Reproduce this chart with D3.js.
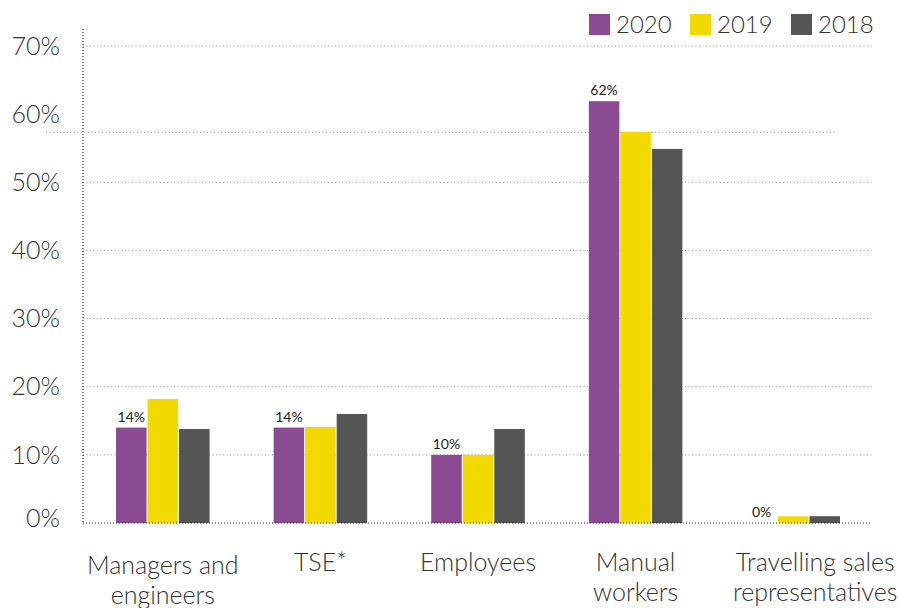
<!DOCTYPE html>
<html><head><meta charset="utf-8">
<script src="https://cdn.jsdelivr.net/npm/d3@7"></script>
<style>
body{margin:0;background:#fff;}
svg{display:block;}
</style></head>
<body>
<svg id="chart" width="900" height="608"></svg>
<script>
const categories = [["Managers and","engineers"],["TSE*"],["Employees"],["Manual","workers"],["Travelling sales","representatives"]];
const series = ["2020","2019","2018"];
const values2020 = [14.0, 14.0, 10.0, 61.9, 0];
const values2019 = [18.2, 14.1, 10.0, 57.4, 1.0];
const values2018 = [13.8, 16.0, 13.8, 54.9, 1.0];
const labels2020 = ["14%","14%","10%","62%","0%"];
const yTicks = [0,10,20,30,40,50,60,70];
const gridValues = [10,20,30,40,50,70];
const colors = ["#8a4b93","#f2da00","#555555"];

const svg = d3.select("#chart");
const font = "'Source Sans Pro', Lato, 'Open Sans', sans-serif";
const x0 = d3.scaleBand().domain(d3.range(categories.length)).range([84,872]).paddingInner(0.4).paddingOuter(0.2);
const x1 = d3.scaleBand().domain(series).range([0, x0.bandwidth()]).padding(0);
const y = d3.scaleLinear().domain([0,70]).range([523,46]);
const all = [values2020, values2019, values2018];

// gridlines
svg.append("g").selectAll("line").data(gridValues).join("line")
  .attr("x1",83).attr("x2",872).attr("y1",d=>y(d)).attr("y2",d=>y(d))
  .attr("stroke","#8c8c8c").attr("stroke-width",1).attr("stroke-dasharray","1,2.5");
// extra reference line
svg.append("line").attr("x1",46).attr("x2",836).attr("y1",y(values2019[3])+0.5).attr("y2",y(values2019[3])+0.5)
  .attr("stroke","#8c8c8c").attr("stroke-width",1).attr("stroke-dasharray","1,2.5");

// bars
const groups = svg.append("g").selectAll("g").data(categories).join("g")
  .attr("transform",(d,i)=>`translate(${x0(i)},0)`);
groups.selectAll("rect").data((d,i)=>series.map((s,k)=>({s,k,v:all[k][i]}))).join("rect")
  .attr("x",d=>x1(d.s)+0.5).attr("width",x1.bandwidth()-1)
  .attr("y",d=>y(d.v)).attr("height",d=>y(0)-y(d.v))
  .attr("fill",d=>colors[d.k]);

// value labels
svg.append("g").selectAll("text").data(labels2020).join("text")
  .attr("x",(d,i)=>x0(i)+x1("2020")+x1.bandwidth()/2)
  .attr("y",(d,i)=>y(values2020[i])-6)
  .attr("text-anchor","middle").attr("font-family",font).attr("font-size",14)
  .attr("fill","#1a1a1a").text(d=>d);

// axes
svg.append("line").attr("x1",83).attr("x2",83).attr("y1",29).attr("y2",523)
  .attr("stroke","#222").attr("stroke-width",1.2).attr("stroke-dasharray","1,2");
svg.append("line").attr("x1",83).attr("x2",872).attr("y1",523).attr("y2",523)
  .attr("stroke","#222").attr("stroke-width",1.2).attr("stroke-dasharray","1,2");

// y labels
svg.append("g").selectAll("text").data(yTicks).join("text")
  .attr("x",60).attr("y",d=>y(d) - (d===0?5:0)).attr("dy","0.35em")
  .attr("text-anchor","end").attr("font-family",font).attr("font-weight",300)
  .attr("font-size",25).attr("fill","#333").text(d=>d+"%");

// category labels
const n = categories.length;
const cl = svg.append("g").selectAll("text").data(categories).join("text")
  .attr("x",(d,i)=>x0(i)+x0.bandwidth()/2 + (i===n-1?22:0)).attr("y",(d,i)=>i===0?574:571)
  .attr("text-anchor","middle").attr("font-family",font).attr("font-weight",300)
  .attr("font-size",25).attr("fill","#333");
cl.selectAll("tspan").data(d=>d).join("tspan")
  .attr("x",function(){return this.parentNode.getAttribute("x");})
  .attr("dy",(d,j)=>j===0?0:30).text(d=>d);

// legend
const lx = [589,690,791];
const lg = svg.append("g").selectAll("g").data(series).join("g")
  .attr("transform",(d,i)=>`translate(${lx[i]},14)`);
lg.append("rect").attr("width",21).attr("height",21).attr("fill",(d,i)=>colors[i]);
lg.append("text").attr("x",27).attr("y",10.5).attr("dy","0.35em")
  .attr("font-family",font).attr("font-weight",300).attr("font-size",24).attr("fill","#333").text(d=>d);
</script>
</body></html>
